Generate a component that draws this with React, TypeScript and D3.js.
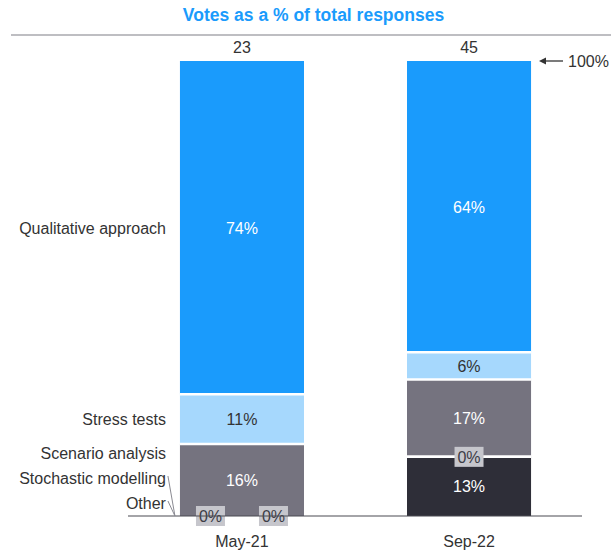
import React from "react";
import * as d3 from "d3";

const categories = ["May-21", "Sep-22"];
const totals = [23, 45];
const seriesNames = ["Other", "Stochastic modelling", "Scenario analysis", "Stress tests", "Qualitative approach"];
const seriesColors = ["#2e2e38", "#2e2e38", "#75737f", "#a6d8fd", "#1a9bfc"];
const labelColors = ["#ffffff", "#ffffff", "#ffffff", "#333333", "#ffffff"];
const may21 = [0, 0, 16, 11, 74];
const sep22 = [13, 0, 17, 6, 64];
const values = [may21, sep22];

const W = 611;
const H = 551;
const BASE = 516;
const TOP = 61;
const FONT = "'Liberation Sans', Arial, sans-serif";
const FS = 16;

export default function App() {
  const x = d3.scaleBand<string>().domain(categories).range([130, 581]).paddingInner(0.4537).paddingOuter(0.22);
  const y = d3.scaleLinear().domain([0, 1]).range([BASE, TOP]);
  const bw = x.bandwidth();

  const cols = categories.map((c, ci) => {
    const vals = values[ci];
    const sum = d3.sum(vals);
    let acc = 0;
    const segs = vals.map((v, si) => {
      const y0 = acc / sum;
      acc += v;
      const y1 = acc / sum;
      return { v, si, y0, y1 };
    });
    return { c, ci, segs };
  });

  const first = cols[0].segs;
  const labelY: number[] = new Array(seriesNames.length);
  let limit = BASE - 13;
  for (let si = 0; si < seriesNames.length; si++) {
    const s = first[si];
    const desired = (y(s.y0) + y(s.y1)) / 2;
    const yy = Math.min(desired, limit);
    labelY[si] = yy;
    limit = yy - 25;
  }
  const labelRight = (x(categories[0]) as number) - 14;

  return (
    <svg width={W} height={H} style={{ position: "absolute", left: 0, top: 0 }} fontFamily={FONT}>
      <text x={313.5} y={21} textAnchor="middle" fontSize={17.5} fontWeight="bold" fill="#1a9bfc">
        Votes as a % of total responses
      </text>
      <line x1={11} x2={611} y1={35} y2={35} stroke="#a8a8ae" strokeWidth={1.5} />
      {cols.map((col) => {
        const bx = x(col.c) as number;
        const cx = bx + bw / 2;
        return (
          <g key={col.c}>
            {col.segs.map((s) =>
              s.v > 0 ? (
                <rect key={s.si} x={bx} y={y(s.y1)} width={bw} height={y(s.y0) - y(s.y1)} fill={seriesColors[s.si]} />
              ) : null
            )}
            {col.segs.slice(0, -1).map((s) =>
              s.y1 > 0 && s.y1 < 1 ? (
                <line key={"b" + s.si} x1={bx} x2={bx + bw} y1={y(s.y1)} y2={y(s.y1)} stroke="#ffffff" strokeWidth={2.5} />
              ) : null
            )}
            {col.segs.map((s) =>
              s.v > 0 ? (
                <text key={"t" + s.si} x={cx} y={(y(s.y0) + y(s.y1)) / 2 + 6} textAnchor="middle" fontSize={FS} fill={labelColors[s.si]}>
                  {s.v}%
                </text>
              ) : null
            )}
            {(() => {
              const zeros = col.segs.filter((s) => s.v === 0);
              const groups = d3.groups(zeros, (s) => s.y0);
              return groups.flatMap(([k, g]) =>
                g.map((s, i) => {
                  const off = (i - (g.length - 1) / 2) * 63;
                  const zy = y(s.y0);
                  return (
                    <g key={"z" + s.si}>
                      <rect x={cx + off - 14.5} y={zy - 10} width={29} height={20} fill="#c6c6cc" />
                      <text x={cx + off} y={zy + 6} textAnchor="middle" fontSize={FS} fill="#3c3c46">
                        0%
                      </text>
                    </g>
                  );
                })
              );
            })()}
            <text x={cx} y={53} textAnchor="middle" fontSize={FS} fill="#333333">
              {totals[col.ci]}
            </text>
            <text x={cx} y={547} textAnchor="middle" fontSize={FS} fill="#333333">
              {col.c}
            </text>
          </g>
        );
      })}
      <line x1={128} x2={582} y1={BASE} y2={BASE} stroke="#4a4a52" strokeWidth={1.2} />
      {seriesNames.map((n, si) => (
        <g key={n}>
          <text x={labelRight} y={labelY[si] + 6} textAnchor="end" fontSize={FS} fill="#333333">
            {n}
          </text>
          {first[si].v === 0 ? (
            <line x1={labelRight + 2} y1={labelY[si] - 2} x2={(x(categories[0]) as number) - 5} y2={BASE} stroke="#8a8a92" strokeWidth={1} />
          ) : null}
        </g>
      ))}
      <line x1={563} x2={544} y1={61} y2={61} stroke="#333333" strokeWidth={1.3} />
      <path d="M539,61 L546,57.5 L546,64.5 Z" fill="#333333" />
      <text x={568} y={67} fontSize={FS} fill="#333333">100%</text>
    </svg>
  );
}
